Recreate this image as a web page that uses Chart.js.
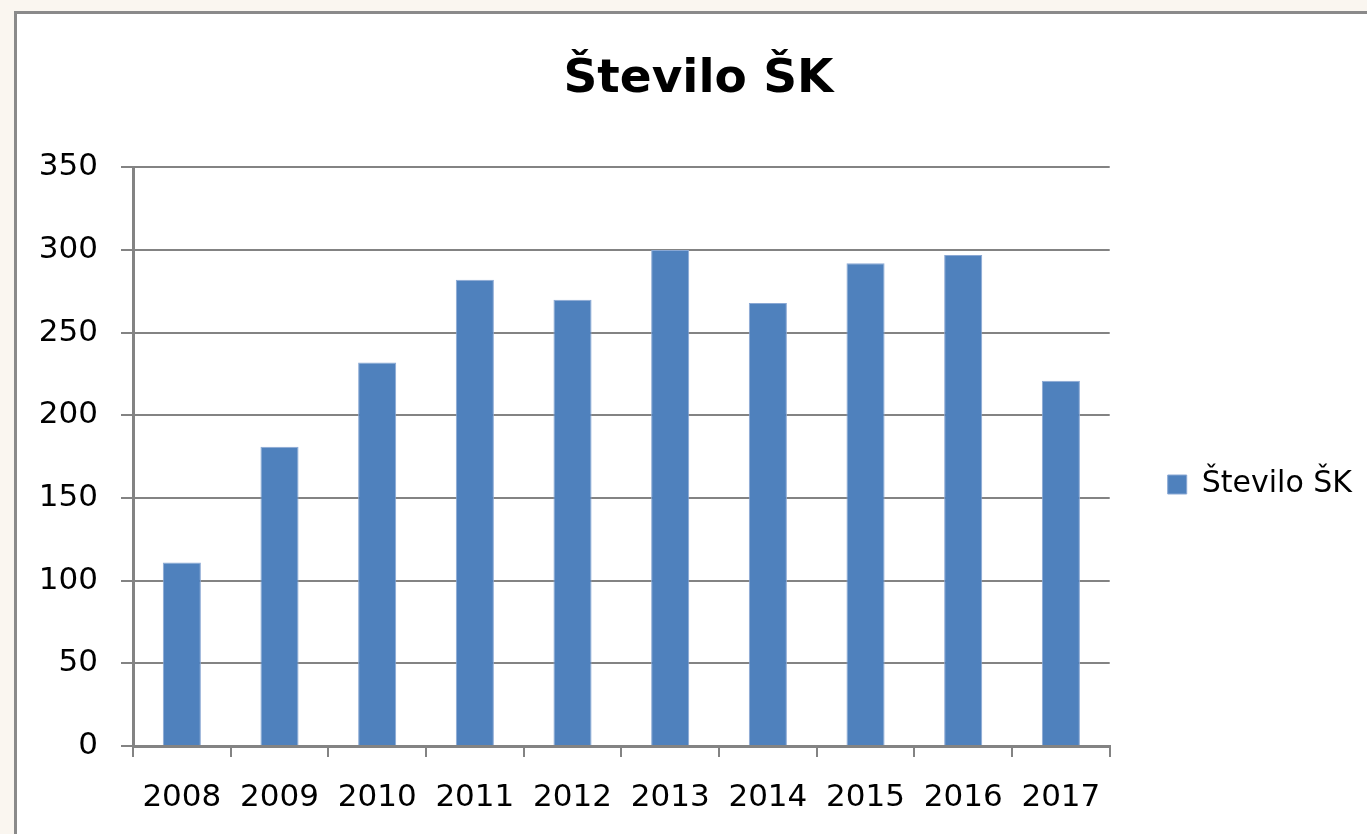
<!DOCTYPE html>
<html>
<head>
<meta charset="utf-8">
<script src="https://cdn.jsdelivr.net/npm/chart.js@4.4.0/dist/chart.umd.min.js"></script>
<style>
html, body { margin: 0; padding: 0; background: #faf6f0; overflow: hidden; }
#okvir { position: absolute; left: 14px; top: 11px; width: 1360px; height: 830px; background: #fff; border: 3px solid #8a8a8a; }
#graf { position: absolute; left: 0; top: 0; }
</style>
</head>
<body>
<div id="okvir"><canvas id="graf" width="1350" height="820" style="width:1350px;height:820px"></canvas></div>
<script>
// --- podatki ---
const leta = ['2008', '2009', '2010', '2011', '2012', '2013', '2014', '2015', '2016', '2017'];
const steviloSK = [111, 181, 232, 282, 270, 300, 268, 292, 297, 221];
const imeSerije = 'Število ŠK';
const naslov = 'Število ŠK';
const yMin = 0, yMax = 350, yKorak = 50;

const siva = '#838383';
const pisava = 'DejaVu Sans';

new Chart(document.getElementById('graf'), {
    type: 'bar',
    data: {
        labels: leta,
        datasets: [{
            label: imeSerije,
            data: steviloSK,
            backgroundColor: '#4f81bd',
            borderColor: '#8aa8d4',
            borderWidth: 1,
            categoryPercentage: 1,
            barPercentage: 0.39
        }]
    },
    options: {
        responsive: false,
        animation: false,
        layout: { padding: { left: 18, right: 5, top: 0, bottom: 0 } },
        plugins: {
            title: {
                display: true,
                text: naslov,
                color: '#000',
                font: { family: pisava, size: 47, weight: 'bold' },
                padding: { top: 38, bottom: 59 }
            },
            legend: {
                position: 'right',
                title: { display: true, text: ' ', font: { family: pisava, size: 30 }, padding: { top: 43, bottom: 42 } },
                labels: {
                    color: '#000',
                    font: { family: pisava, size: 30 },
                    boxWidth: 19,
                    boxHeight: 19,
                    padding: 58
                }
            },
            tooltip: { enabled: false }
        },
        scales: {
            x: {
                afterFit: (s) => { s.height = 88; },
                grid: { display: true, drawOnChartArea: false, color: siva, lineWidth: 2, tickLength: 11, offset: true },
                border: { color: siva, width: 3 },
                ticks: { color: '#000', font: { family: pisava, size: 31 }, padding: 22, maxRotation: 0 }
            },
            y: {
                min: yMin,
                max: yMax,
                afterFit: (s) => { s.width = 98; },
                grid: { color: siva, lineWidth: 2, tickLength: 12 },
                border: { color: siva, width: 3 },
                ticks: { stepSize: yKorak, color: '#000', font: { family: pisava, size: 31 }, padding: 23 }
            }
        }
    }
});
</script>
</body>
</html>
